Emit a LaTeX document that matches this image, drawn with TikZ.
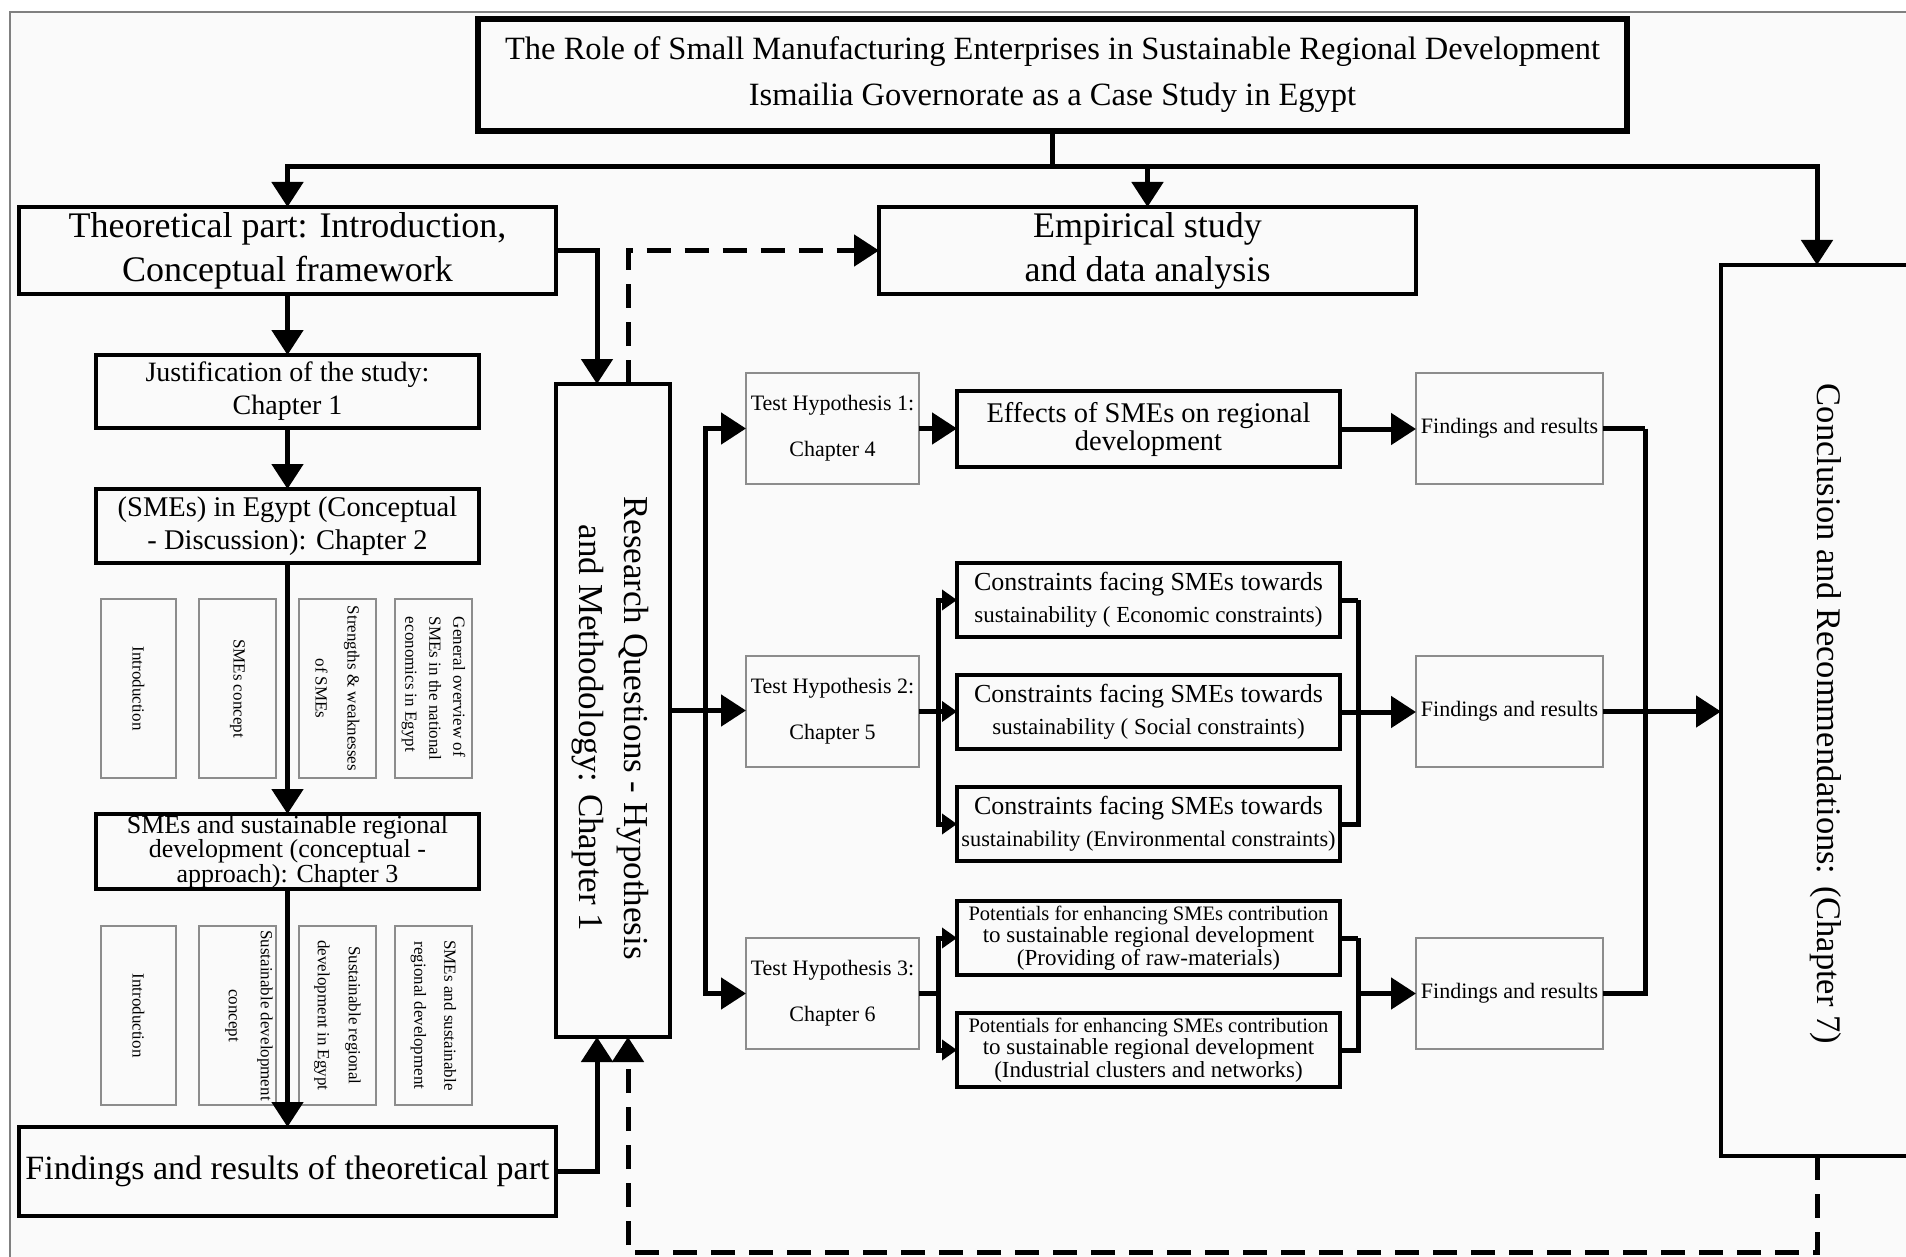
\documentclass[tikz,border=0pt]{standalone}
\usepackage{fontspec}
\setmainfont{Liberation Serif}
\usetikzlibrary{arrows.meta,calc}
\begin{document}
\begin{tikzpicture}[x=1pt,y=-1pt,
  bx/.style={draw, line width=3.5pt, inner sep=0pt, outer sep=0pt, align=center},
  gbx/.style={draw=black!45, line width=1.5pt, inner sep=0pt, outer sep=0pt, align=center, rotate=-90, font=\fontsize{17}{20}\selectfont},
  lbx/.style={draw=black!45, line width=1.5pt, inner sep=0pt, outer sep=0pt, align=center, minimum width=173, minimum height=111},
  rtext/.style={rotate=-90, align=center, inner sep=0pt},
  conn/.style={line width=5pt, line join=miter},
  big/.style={-{Triangle[length=25pt,width=31pt]}},
  small/.style={-{Triangle[length=15pt,width=20pt]}},
  dsh/.style={dash pattern=on 24pt off 14pt}]
\path[use as bounding box] (0,0) rectangle (1906,1257);
\begin{scope}
\clip (0,0) rectangle (1906,1257);
\fill[white] (0,0) rectangle (1906,1257);
\draw[black!50, line width=1.5pt, fill=black!2] (10,12) rectangle (1940,1300);

% title
\node[bx, line width=5.5pt, minimum width=1149, minimum height=112, font=\fontsize{32.5}{46}\selectfont] (title) at (1052.5,75)
  {The Role of Small Manufacturing Enterprises in Sustainable Regional Development\\Ismailia Governorate as a Case Study in Egypt};

% left column
\node[bx, line width=4pt, minimum width=537, minimum height=87, font=\fontsize{36}{44}\selectfont] (theo) at (287.5,250.5)
  {Theoretical part: Introduction,\\Conceptual framework};
\node[bx, line width=4pt, minimum width=537, minimum height=87, font=\fontsize{36}{44}\selectfont] (emp) at (1147.5,250.5)
  {Empirical study\\and data analysis};
\node[bx, minimum width=383, minimum height=73, font=\fontsize{28}{33}\selectfont] (just) at (287.5,391.5)
  {Justification of the study:\\Chapter 1};
\node[bx, minimum width=383, minimum height=74, font=\fontsize{28.5}{33}\selectfont] (egypt) at (287.5,526)
  {(SMEs) in Egypt (Conceptual\\- Discussion): Chapter 2};
\node[bx, minimum width=383, minimum height=75, font=\fontsize{26}{23.5}\selectfont] (sust) at (287.5,851.5)
  {SMEs and sustainable regional\\development (conceptual -\\approach): Chapter 3};
\node[bx, line width=4pt, minimum width=537, minimum height=89, font=\fontsize{34}{40}\selectfont] (findT) at (287.5,1171.5)
  {Findings and results of theoretical part};

% grey boxes row 1
\node[gbx, minimum width=179, minimum height=75] (g1) at (138.5,688.5) {Introduction};
\node[gbx, minimum width=179, minimum height=77] (g2) at (237.5,688.5) {SMEs concept};
\node[gbx, minimum width=179, minimum height=77, font=\fontsize{17}{32}\selectfont] (g3) at (337.5,688.5) {Strengths \& weaknesses\\of SMEs};
\node[gbx, minimum width=179, minimum height=77, font=\fontsize{17}{24}\selectfont, align=left] (g4) at (433.5,688.5) {General overview of\\SMEs in the national\\economics in Egypt};
% grey boxes row 2
\node[gbx, minimum width=179, minimum height=75] (g5) at (138.5,1015.5) {Introduction};
\node[gbx, minimum width=179, minimum height=77] (g6) at (237.5,1015.5) {};
\node[rtext, font=\fontsize{17}{32}\selectfont] (g6t) at (249,1015.5) {Sustainable development\\concept};
\node[gbx, minimum width=179, minimum height=77, font=\fontsize{17}{31}\selectfont] (g7) at (337.5,1015.5) {Sustainable regional\\development in Egypt};
\node[gbx, minimum width=179, minimum height=77, font=\fontsize{17}{30}\selectfont] (g8) at (433.5,1015.5) {SMEs and sustainable\\regional development};

% research box
\node[bx, minimum width=114, minimum height=653] (rq) at (613,710.5) {};
\node[rtext, font=\fontsize{35}{45}\selectfont] (rqt) at (610.5,728) {Research Questions - Hypothesis\\and Methodology: Chapter 1};

% conclusion box
\node[bx, minimum width=210, minimum height=891] (conc) at (1826,710.5) {};
\node[rtext, font=\fontsize{34.5}{40}\selectfont] (conct) at (1826,714) {Conclusion and Recommendations: (Chapter 7)};

% hypotheses
\node[lbx, font=\fontsize{22}{46}\selectfont] (th1) at (832.5,428.5) {Test Hypothesis 1:\\Chapter 4};
\node[lbx, font=\fontsize{22}{46}\selectfont] (th2) at (832.5,711.5) {Test Hypothesis 2:\\Chapter 5};
\node[lbx, font=\fontsize{22}{46}\selectfont] (th3) at (832.5,993.5) {Test Hypothesis 3:\\Chapter 6};

\node[bx, minimum width=383, minimum height=76, font=\fontsize{28.5}{28}\selectfont] (eff) at (1148.5,429)
  {Effects of SMEs on regional\\development};
\node[bx, minimum width=383, minimum height=74, font=\fontsize{26}{32}\selectfont] (c1) at (1148.5,600)
  {Constraints facing SMEs towards\\{\fontsize{23}{32}\selectfont sustainability ( Economic constraints)}};
\node[bx, minimum width=383, minimum height=74, font=\fontsize{26}{32}\selectfont] (c2) at (1148.5,712)
  {Constraints facing SMEs towards\\{\fontsize{23}{32}\selectfont sustainability ( Social constraints)}};
\node[bx, minimum width=383, minimum height=74, font=\fontsize{26}{32}\selectfont] (c3) at (1148.5,824)
  {Constraints facing SMEs towards\\{\fontsize{22.3}{32}\selectfont sustainability (Environmental constraints)}};
\node[bx, minimum width=383, minimum height=74, font=\fontsize{23}{22.5}\selectfont] (p1) at (1148.5,938)
  {{\fontsize{20.5}{22.5}\selectfont Potentials for enhancing SMEs contribution}\\to sustainable regional development\\(Providing of raw-materials)};
\node[bx, minimum width=383, minimum height=74, font=\fontsize{23}{22.5}\selectfont] (p2) at (1148.5,1050)
  {{\fontsize{20.5}{22.5}\selectfont Potentials for enhancing SMEs contribution}\\to sustainable regional development\\(Industrial clusters and networks)};

\node[lbx, minimum width=187, font=\fontsize{22}{26}\selectfont] (fr1) at (1509.5,428.5) {Findings and results};
\node[lbx, minimum width=187, font=\fontsize{22}{26}\selectfont] (fr2) at (1509.5,711.5) {Findings and results};
\node[lbx, minimum width=187, font=\fontsize{22}{26}\selectfont] (fr3) at (1509.5,993.5) {Findings and results};

% connectors from title
\draw[conn] (title.south) -- ++(0,36) coordinate (split);
\draw[conn,big] (split) -| (theo.north);
\draw[conn,big] (split) -| (emp.north);
\draw[conn,big] (split) -| ([xshift=-9pt]conc.north);

% left column
\draw[conn,big] (theo.south) -- (just.north);
\draw[conn,big] (just.south) -- (egypt.north);
\draw[conn,big] (egypt.south) -- (sust.north);
\draw[conn,big] (sust.south) -- (findT.north);

% into research box
\draw[conn,big] (theo.east) -| ([xshift=41pt]rq.north west);
\draw[conn,big] (findT.east) -| ([xshift=41pt]rq.south west);
\draw[conn,dsh,big] ([xshift=72pt]rq.north west) |- (emp.west);
\draw[conn,dsh,big] ([xshift=-9pt]conc.south) -- ++(0,96) -| ([xshift=72pt]rq.south west);

% research to hypotheses
\draw[conn] (rq.east) -- ++(35,0) coordinate (tr);
\draw[conn,big] (tr) |- (th1.west);
\draw[conn,big] (tr) |- (th3.west);
\draw[conn,big] (tr) -- (tr -| th2.west);

% hypothesis 1
\draw[conn,big] (th1.east) -- (th1.east -| eff.west);
\draw[conn,big] (eff.east) -- (eff.east -| fr1.west);

% hypothesis 2
\draw[conn] (th2.east) -- ++(19,0) coordinate (t2);
\draw[conn,small] (t2) |- (c1.west);
\draw[conn,small] (t2) |- (c3.west);
\draw[conn,small] (t2) -- (t2 -| c2.west);
\draw[conn] (c1.east) -- ++(18,0) coordinate (b1);
\draw[conn] (b1) -- (b1 |- c3.east) -- (c3.east);
\draw[conn,big] (c2.east) -- (c2.east -| fr2.west);

% hypothesis 3
\draw[conn] (th3.east) -- ++(19,0) coordinate (t3);
\draw[conn,small] (t3) |- (p1.west);
\draw[conn,small] (t3) |- (p2.west);
\draw[conn] (p1.east) -- ++(18,0) coordinate (b3);
\draw[conn] (b3) -- (b3 |- p2.east) -- (p2.east);
\draw[conn,big] (b3 |- fr3.west) -- (fr3.west);

% findings to conclusion
\draw[conn] (fr1.east) -- ++(42,0) coordinate (b4);
\draw[conn] (b4) -- (b4 |- fr3.east) -- (fr3.east);
\draw[conn,big] (fr2.east) -- (fr2.east -| conc.west);
\end{scope}
\end{tikzpicture}
\end{document}
